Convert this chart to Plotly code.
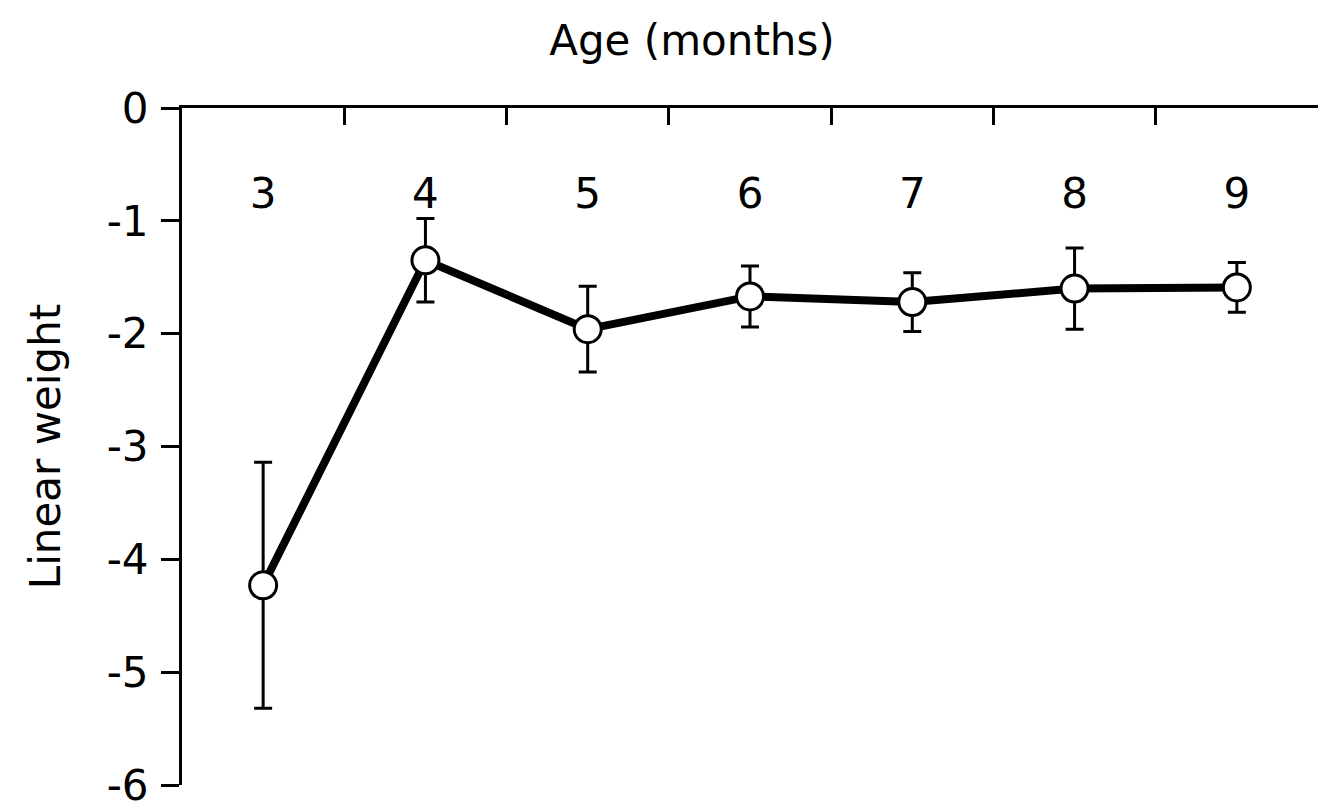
import plotly.graph_objects as go

ages = ["3", "4", "5", "6", "7", "8", "9"]
weights = [-4.23, -1.35, -1.96, -1.67, -1.72, -1.60, -1.59]
errors = [1.09, 0.37, 0.38, 0.27, 0.26, 0.36, 0.22]
y_ticks = [0, -1, -2, -3, -4, -5, -6]

FONT = "DejaVu Sans"
FS = 42

fig = go.Figure()
fig.add_trace(go.Scatter(
    x=ages, y=weights,
    mode="lines+markers",
    line=dict(color="black", width=8),
    marker=dict(size=27, color="white", line=dict(color="black", width=3)),
    error_y=dict(type="data", array=errors, visible=True, color="black", thickness=3, width=9),
    showlegend=False,
))
# invisible companion trace so the label axis (x2) is rendered
fig.add_trace(go.Scatter(
    x=list(range(len(ages))), y=weights, xaxis="x2",
    mode="markers", marker=dict(opacity=0, size=1),
    hoverinfo="skip", showlegend=False,
))

fig.update_layout(
    width=1323, height=798,
    margin=dict(l=174, r=13, t=100, b=21),
    paper_bgcolor="white", plot_bgcolor="white",
    font=dict(family=FONT, size=FS, color="black"),
    title=dict(text="Age (months)", xref="container", x=0.517, xanchor="center",
               yref="container", y=0.96, yanchor="middle",
               font=dict(family=FONT, size=FS, color="black")),
    xaxis=dict(
        type="category", side="top", range=[-0.5, 6.5], automargin=False,
        tickson="boundaries", ticks="inside", ticklen=17, tickwidth=3, tickcolor="black",
        showline=True, linecolor="black", linewidth=3, showgrid=False, zeroline=False,
        showticklabels=False,
    ),
    xaxis2=dict(
        overlaying="x", anchor="free", position=0.916, side="bottom",
        range=[-0.5, 6.5], tickvals=list(range(len(ages))), ticktext=ages,
        ticks="", showline=False, showgrid=False, zeroline=False, automargin=False,
        tickfont=dict(family=FONT, size=FS, color="black"),
    ),
    yaxis=dict(
        range=[-6, 0], tickvals=y_ticks, ticktext=[str(v) for v in y_ticks],
        automargin=False, ticklabeloverflow="allow", ticklabelstandoff=4,
        ticks="outside", ticklen=18, tickwidth=3, tickcolor="black",
        showline=True, linecolor="black", linewidth=3, showgrid=False, zeroline=False,
        tickfont=dict(family=FONT, size=FS, color="black"),
        title=dict(text="Linear weight", font=dict(family=FONT, size=FS, color="black"), standoff=34),
    ),
)

fig.write_html("out.html")
